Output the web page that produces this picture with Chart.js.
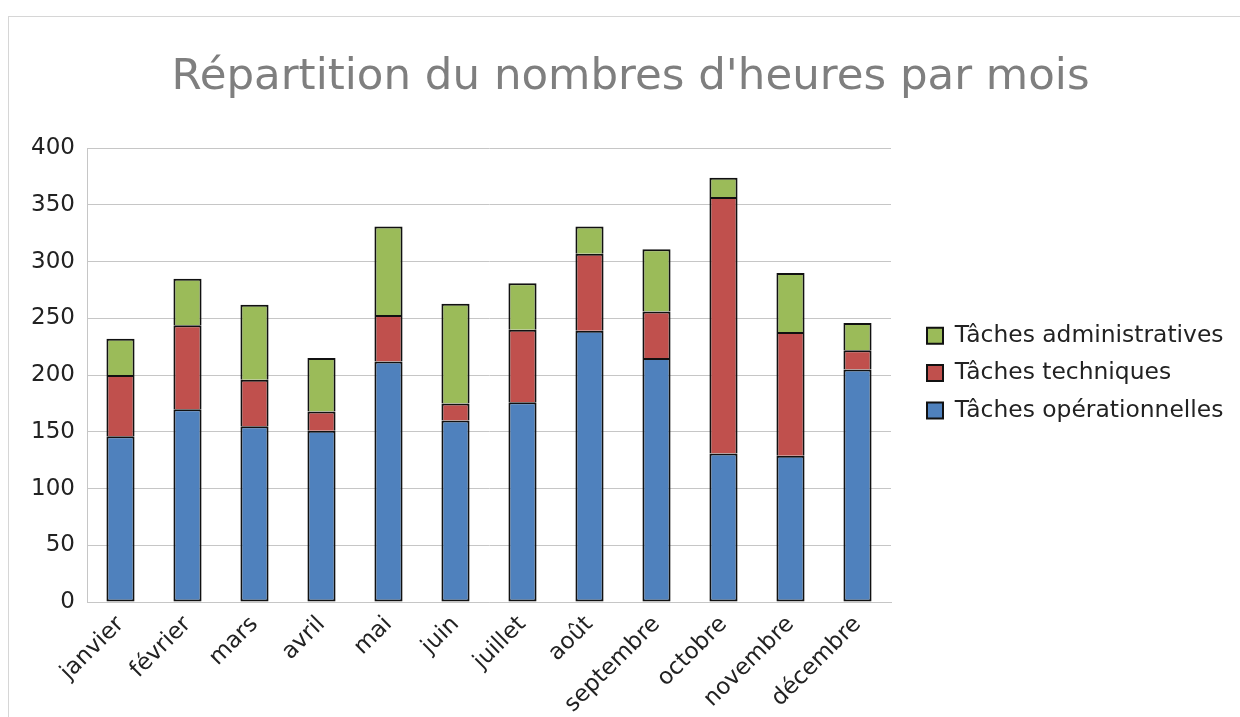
<!DOCTYPE html>
<html lang="fr">
<head>
<meta charset="utf-8">
<title>Répartition du nombres d'heures par mois</title>
<script src="https://cdn.jsdelivr.net/npm/chart.js@4.4.1/dist/chart.umd.min.js"></script>
<style>
    html, body { margin: 0; padding: 0; background: #fff; overflow: hidden; }
    .cadre { position: absolute; left: 8px; top: 16px; width: 1300px; height: 800px; border: 1px solid #d6d6d6; }
    #zone { position: absolute; left: 0; top: 0; width: 1240px; height: 717px; }
</style>
</head>
<body>
<div class="cadre"></div>
<div id="zone"><canvas id="graphique"></canvas></div>
<script>
'use strict';

// données du graphique
const mois = ['janvier', 'février', 'mars', 'avril', 'mai', 'juin', 'juillet', 'août', 'septembre', 'octobre', 'novembre', 'décembre'];
const heuresOperationnelles = [146, 170, 155, 151, 212, 160, 176, 239, 215, 131, 129, 205];
const heuresTechniques = [54, 74, 41, 17, 41, 15, 64, 68, 41, 226, 109, 17];
const heuresAdministratives = [32, 41, 66, 47, 78, 88, 41, 24, 55, 17, 52, 24];
const graduationsY = [0, 50, 100, 150, 200, 250, 300, 350, 400];

// couleurs
const couleurs = {
    bleu: '#4f81bd',
    rouge: '#c0504d',
    vert: '#9bbb59',
    contour: '#111111',
    grille: '#c6c6c6',
    texte: '#222222',
    titre: '#7f7f7f'
};

const police = 'DejaVu Sans';

// place la légende un peu à droite du tracé et recentre le titre
const ajustementMiseEnPage = {
    id: 'ajustementMiseEnPage',
    afterLayout(chart) {
        const legende = chart.legend;
        if (legende) {
            legende.left = chart.chartArea.right + 22;
            legende.right = chart.width;
            legende.top -= 2;
            legende.bottom -= 2;
        }
        const titre = chart.titleBlock;
        if (titre) {
            titre.left = 21;
            titre.right = chart.width;
        }
    }
};

// le segment du bas garde son contour complet, les autres sautent leur bord inférieur
function serie(label, data, couleur, bordSaute) {
    return {
        label: label,
        data: data,
        backgroundColor: couleur,
        borderColor: couleurs.contour,
        borderWidth: 2,
        borderSkipped: bordSaute,
        barPercentage: 0.42,
        categoryPercentage: 1
    };
}

new Chart(document.getElementById('graphique'), {
    type: 'bar',
    data: {
        labels: mois,
        datasets: [
            serie('Tâches opérationnelles', heuresOperationnelles, couleurs.bleu, false),
            serie('Tâches techniques', heuresTechniques, couleurs.rouge, 'start'),
            serie('Tâches administratives', heuresAdministratives, couleurs.vert, 'start')
        ]
    },
    options: {
        responsive: true,
        maintainAspectRatio: false,
        animation: false,
        layout: {
            padding: { left: 0, right: 52, top: 0, bottom: 0 }
        },
        plugins: {
            title: {
                display: true,
                text: "Répartition du nombres d'heures par mois",
                color: couleurs.titre,
                font: { family: police, size: 43.5, weight: 'normal' },
                padding: { top: 52, bottom: 44 }
            },
            legend: {
                position: 'right',
                fullSize: false,
                reverse: true,
                labels: {
                    boxWidth: 16,
                    boxHeight: 16,
                    padding: 14,
                    color: couleurs.texte,
                    font: { family: police, size: 23.4 }
                }
            },
            tooltip: { enabled: false }
        },
        scales: {
            x: {
                stacked: true,
                grid: { display: false, drawTicks: false },
                border: { color: couleurs.grille, width: 1 },
                ticks: {
                    color: couleurs.texte,
                    font: { family: police, size: 23 },
                    minRotation: 45,
                    maxRotation: 45,
                    padding: 9
                },
                afterFit: scale => { scale.height = 115; }
            },
            y: {
                stacked: true,
                min: 0,
                max: 400,
                grid: { color: couleurs.grille, drawTicks: false },
                border: { color: couleurs.grille, width: 1 },
                ticks: {
                    color: couleurs.texte,
                    font: { family: police, size: 23 },
                    padding: 12,
                    stepSize: 50,
                    callback: value => graduationsY.includes(value) ? value : null
                },
                afterFit: scale => { scale.width = 87; }
            }
        }
    },
    plugins: [ajustementMiseEnPage]
});
</script>
</body>
</html>
